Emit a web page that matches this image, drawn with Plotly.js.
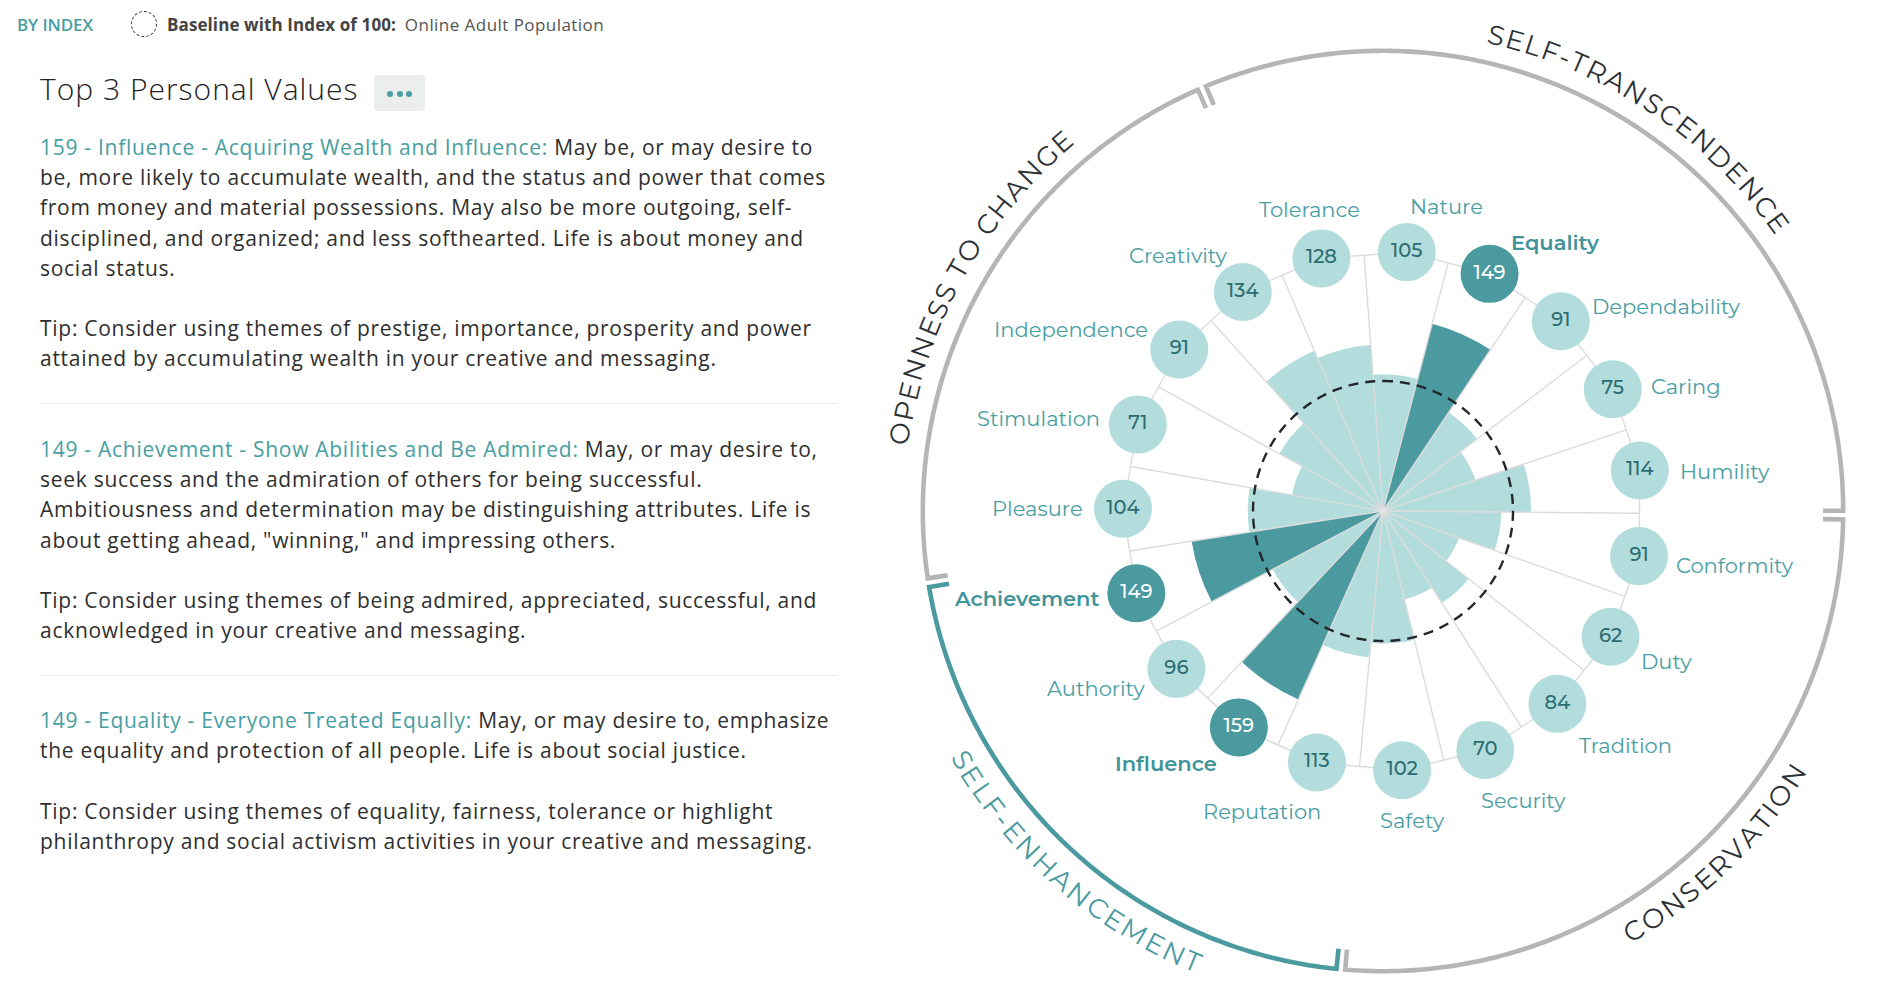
<!DOCTYPE html>
<html>
<head>
<meta charset="utf-8">
<script src="https://cdn.plot.ly/plotly-3.0.1.min.js"></script>
<style>
html,body{margin:0;padding:0;background:#fff;}
body{width:1894px;height:1004px;position:relative;overflow:hidden;font-family:"Open Sans",sans-serif;}
#chart{position:absolute;left:0;top:0;width:1894px;height:1004px;}
#panel{position:absolute;left:0;top:0;width:880px;height:1004px;color:#333;}
.byindex{position:absolute;left:17px;top:13px;font-size:17px;font-weight:600;color:#479ea3;letter-spacing:-0.1px;}
.baseicon{position:absolute;left:131px;top:11px;width:26px;height:26px;border:1.4px dashed #333;border-radius:50%;box-sizing:border-box;}
.baseline{position:absolute;left:167px;top:13px;font-size:17px;color:#555;white-space:nowrap;}
.baseline b{font-weight:700;color:#444;letter-spacing:0.1px;}
.baseline span{letter-spacing:0.45px;}
.title{position:absolute;left:40px;top:68px;font-size:30px;font-weight:300;color:#222;white-space:nowrap;letter-spacing:1px;}
.more{position:absolute;left:374px;top:75px;width:51px;height:36px;background:#eceeee;border-radius:3px;}
.more span{position:absolute;top:16px;width:6px;height:6px;border-radius:50%;background:#479ea3;}
.block{position:absolute;left:40px;font-size:21px;line-height:30.2px;white-space:nowrap;color:#2f2f2f;letter-spacing:0.72px;}
.block .hd{color:#479ea3;}
.sep{position:absolute;left:40px;width:797px;height:1px;background:#ebebeb;}
</style>
</head>
<body>
<div id="chart"></div>
<div id="panel">
  <div class="byindex">BY INDEX</div>
  <div class="baseicon"></div>
  <div class="baseline"><b>Baseline with Index of 100:</b>&nbsp; <span>Online Adult Population</span></div>
  <div class="title">Top 3 Personal Values</div>
  <div class="more"><span style="left:13px"></span><span style="left:22.5px"></span><span style="left:32px"></span></div>
</div>
<script>
// ---------------- DATA ----------------
const categories = ['Nature','Equality','Dependability','Caring','Humility','Conformity','Duty','Tradition','Security','Safety','Reputation','Influence','Authority','Achievement','Pleasure','Stimulation','Independence','Creativity','Tolerance'];
const indexValues = [105,149,91,75,114,91,62,84,70,102,113,159,96,149,104,71,91,134,128];
const topValues = ['Influence','Achievement','Equality'];
const baselineIndex = 100;
const sectionNames = ['SELF-TRANSCENDENCE','CONSERVATION','SELF-ENHANCEMENT','OPENNESS TO CHANGE'];
const sectionMembers = [
  ['Tolerance','Nature','Equality','Dependability','Caring','Humility'],
  ['Conformity','Duty','Tradition','Security','Safety'],
  ['Reputation','Influence','Authority','Achievement'],
  ['Pleasure','Stimulation','Independence','Creativity']
];
const highlightedSection = 'SELF-ENHANCEMENT';

const insightTitles = ['Acquiring Wealth and Influence','Show Abilities and Be Admired','Everyone Treated Equally'];
const insightBody = [
  ['May be, or may desire to',
   'be, more likely to accumulate wealth, and the status and power that comes',
   'from money and material possessions. May also be more outgoing, self-',
   'disciplined, and organized; and less softhearted. Life is about money and',
   'social status.'],
  ['May, or may desire to,',
   'seek success and the admiration of others for being successful.',
   'Ambitiousness and determination may be distinguishing attributes. Life is',
   'about getting ahead, "winning," and impressing others.'],
  ['May, or may desire to, emphasize',
   'the equality and protection of all people. Life is about social justice.']
];
const insightTips = [
  ['Tip: Consider using themes of prestige, importance, prosperity and power',
   'attained by accumulating wealth in your creative and messaging.'],
  ['Tip: Consider using themes of being admired, appreciated, successful, and',
   'acknowledged in your creative and messaging.'],
  ['Tip: Consider using themes of equality, fairness, tolerance or highlight',
   'philanthropy and social activism activities in your creative and messaging.']
];

// ---------------- LEFT PANEL ----------------
(function(){
  const panel = document.getElementById('panel');
  const tops = [132, 434, 705];
  const seps = [403, 675];
  const esc = s => s.replace(/&/g,'&amp;').replace(/</g,'&lt;');
  topValues.forEach((name,i)=>{
    const v = indexValues[categories.indexOf(name)];
    const lines = insightBody[i];
    let html = '<div><span class="hd">'+v+' - '+esc(name)+' - '+esc(insightTitles[i])+':</span> '+esc(lines[0])+'</div>';
    for(let k=1;k<lines.length;k++) html += '<div>'+esc(lines[k])+'</div>';
    html += '<div>&nbsp;</div>';
    insightTips[i].forEach(l=>{ html += '<div>'+esc(l)+'</div>'; });
    const d = document.createElement('div');
    d.className='block'; d.style.top = tops[i]+'px'; d.innerHTML = html;
    panel.appendChild(d);
  });
  seps.forEach(t=>{ const s=document.createElement('div'); s.className='sep'; s.style.top=t+'px'; panel.appendChild(s); });
})();

// ---------------- CHART ----------------
const W = 1894, H = 1004;
const CX = 1383, CY = 511;          // centre of the wheel (px from top-left)
const PXU = 1.3;                    // px per index unit
const RMAX = 372;
const RPX = RMAX * PXU;
const STEP = 360 / categories.length;
const OFFSET = 5.25;
const BUBBLE_R = 200, BUBBLE_D = 58;
const RING_R = 354, TICK = 15.5, GAP = 0.55;
const FONT = 'Montserrat, "Open Sans", sans-serif';
const DARK = '#4a9aa0', LIGHT = '#b3dcdd', TEAL_TXT = '#479ea3';
const D2R = Math.PI/180;

const theta = categories.map((c,i)=> OFFSET + i*STEP);
const isTop = categories.map(c => topValues.includes(c));

const traces = [];

// bars
traces.push({
  type:'barpolar', r: indexValues, theta: theta, width: categories.map(()=>STEP),
  marker:{color: isTop.map(t=> t?DARK:LIGHT), line:{width:0}},
  hoverinfo:'skip'
});

// spokes
const spR=[], spT=[];
const polyEdgeR = BUBBLE_R*Math.cos(STEP/2*D2R);
theta.forEach(t=>{ const b=t+STEP/2; spR.push(0, polyEdgeR, null); spT.push(b,b,null); });
traces.push({type:'scatterpolar', mode:'lines', r:spR, theta:spT, line:{color:'#dcdcdc', width:1.4}, hoverinfo:'skip'});

// centre dot
traces.push({type:'scatterpolar', mode:'markers', r:[0], theta:[0], marker:{size:7, color:'#e2e2e2'}, hoverinfo:'skip'});

// baseline dashed circle
const bcT=[], bcR=[];
for(let a=0;a<=360;a+=1){ bcT.push(a); bcR.push(baselineIndex); }
traces.push({type:'scatterpolar', mode:'lines', r:bcR, theta:bcT, line:{color:'#23272b', width:2.4, dash:'10px,7px'}, hoverinfo:'skip'});

// polygon joining bubbles
traces.push({type:'scatterpolar', mode:'lines', r: theta.map(()=>BUBBLE_R).concat([BUBBLE_R]), theta: theta.concat([theta[0]]),
  line:{color:'#dcdcdc', width:1.4}, hoverinfo:'skip'});

// outer ring sections
const annotations = [];
const canvas = document.createElement('canvas');
const ctx = canvas.getContext('2d');
const RING_FS = 27, RING_LS = 1.9, RT = 489, LOWER_SHIFT = -2;
function norm180(a){ a = ((a%360)+360)%360; if(a>180) a-=360; return a; }
function toPaper(px, py){ return {x: px/W, y: (H-py)/H}; }

sectionNames.forEach((name,si)=>{
  const first = categories.indexOf(sectionMembers[si][0]);
  const start = theta[first] - STEP/2;
  const end = start + sectionMembers[si].length*STEP;
  const hl = name === highlightedSection;
  const col = hl ? DARK : '#b5b5b5';
  const rr=[RING_R-TICK], tt=[start+GAP];
  for(let a=start+GAP; a<end-GAP; a+=0.5){ rr.push(RING_R); tt.push(a); }
  rr.push(RING_R, RING_R-TICK); tt.push(end-GAP, end-GAP);
  traces.push({type:'scatterpolar', mode:'lines', r:rr, theta:tt, line:{color:col, width:4.6}, hoverinfo:'skip'});

  // curved label, one letter at a time
  let mid = (start+end)/2;
  const upper = Math.cos(mid*D2R) > 0;
  if(!upper) mid += LOWER_SHIFT;
  ctx.font = '400 '+RING_FS+'px '+FONT;
  const ws = name.split('').map(ch => ctx.measureText(ch).width);
  const total = ws.reduce((s,w)=>s+w,0) + RING_LS*(ws.length-1);
  let s = -total/2;
  name.split('').forEach((ch,k)=>{
    const off = s + ws[k]/2;
    s += ws[k] + RING_LS;
    if(ch===' ') return;
    const ang = mid + (upper?1:-1)*(off/RT)/D2R;
    const p = toPaper(CX + RT*Math.sin(ang*D2R), CY - RT*Math.cos(ang*D2R));
    annotations.push({
      xref:'paper', yref:'paper', showarrow:false, xanchor:'center', yanchor:'middle',
      x:p.x, y:p.y, text: ch, textangle: upper ? norm180(ang) : norm180(ang-180),
      font:{family:FONT, size:RING_FS, color: hl ? DARK : '#2b3035'}
    });
  });
});

// bubbles with values
traces.push({type:'scatterpolar', mode:'markers+text', r: theta.map(()=>BUBBLE_R), theta: theta,
  text: indexValues.map(String), textposition:'middle center',
  marker:{size:BUBBLE_D, color: isTop.map(t=> t?DARK:LIGHT), line:{width:0}},
  textfont:{family:FONT, size:19.5, color: isTop.map(t=> t?'#ffffff':'#2c6d71'), weight:500},
  hoverinfo:'skip'});

// category labels: placed around each bubble by a rule on the angle
const LABEL_FS = 21, LABEL_D = 40, LABEL_V = 52;
categories.forEach((c,i)=>{
  const deg = theta[i];
  const t = deg*D2R, s = Math.sin(t), co = Math.cos(t);
  // labels on the right-hand / upper side lean slightly clockwise
  const hShift = (deg < 170 || deg > 320) ? 10 : 0;
  const vShift = deg < 180 ? 15 : 0;
  const sh = Math.sin((deg+hShift)*D2R);
  const cv = Math.cos((deg+vShift)*D2R);
  const weight = isTop[i] ? 600 : 400;
  ctx.font = weight+' '+LABEL_FS+'px '+FONT;
  const w = ctx.measureText(c).width;
  const bx = CX + BUBBLE_R*PXU*s, by = CY - BUBBLE_R*PXU*co;
  const k = Math.max(-1, Math.min(1, 3*sh));
  const lx = bx + LABEL_D*sh + (w/2)*k;
  const ly = by - LABEL_V*Math.sign(cv)*cv*cv;
  const p = toPaper(lx, ly);
  annotations.push({
    xref:'paper', yref:'paper', showarrow:false, xanchor:'center', yanchor:'middle',
    x:p.x, y:p.y, text:c,
    font:{family:FONT, size:LABEL_FS, color: isTop[i] ? '#3f9499' : TEAL_TXT, weight: weight}
  });
});

const layout = {
  width:W, height:H, margin:{l:0,r:0,t:0,b:0},
  paper_bgcolor:'#ffffff', showlegend:false,
  polar:{
    domain:{x:[(CX-RPX)/W,(CX+RPX)/W], y:[(H-CY-RPX)/H,(H-CY+RPX)/H]},
    bgcolor:'rgba(0,0,0,0)', bargap:0,
    radialaxis:{visible:false, range:[0,RMAX], showgrid:false, showline:false, showticklabels:false, ticks:''},
    angularaxis:{visible:false, direction:'clockwise', rotation:90, thetaunit:'degrees', showgrid:false, showline:false, showticklabels:false, ticks:''}
  },
  annotations: annotations
};
Plotly.newPlot('chart', traces, layout, {displayModeBar:false, staticPlot:true});
</script>
</body>
</html>
